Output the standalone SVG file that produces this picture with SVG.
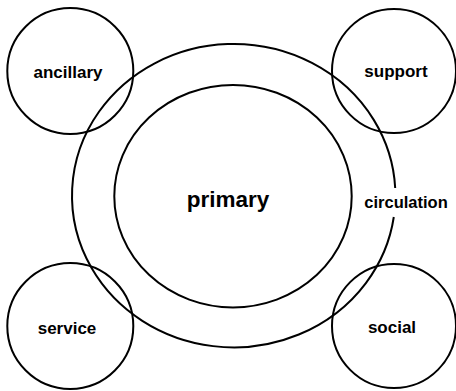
<svg xmlns="http://www.w3.org/2000/svg" width="456" height="391" viewBox="0 0 456 391">
<style>
.ln{fill:none;stroke:#000;stroke-width:2}
.t{font-family:"Liberation Sans",Arial,sans-serif;font-weight:bold;fill:#000;text-anchor:middle}
</style>
<rect width="456" height="391" fill="#fff"/>
<g id="circulation">
<path class="ln" d="M 395.2 188 A 161.7 151.7 0 1 0 393.8 217"/>
<text class="t" x="406" y="208" font-size="16.5">circulation</text>
</g>
<g id="primary">
<ellipse class="ln" cx="233" cy="196.2" rx="118.7" ry="111.2"/>
<text class="t" x="228" y="207" font-size="22.5">primary</text>
</g>
<g id="ancillary">
<circle class="ln" cx="70.3" cy="71" r="63"/>
<text class="t" x="68" y="78" font-size="17">ancillary</text>
</g>
<g id="support">
<circle class="ln" cx="394" cy="71" r="62"/>
<text class="t" x="396" y="77" font-size="17">support</text>
</g>
<g id="service">
<circle class="ln" cx="70.3" cy="326" r="63"/>
<text class="t" x="67" y="334" font-size="17">service</text>
</g>
<g id="social">
<circle class="ln" cx="394" cy="326" r="62"/>
<text class="t" x="392" y="333" font-size="17">social</text>
</g>
<g id="connectors"></g>
</svg>
